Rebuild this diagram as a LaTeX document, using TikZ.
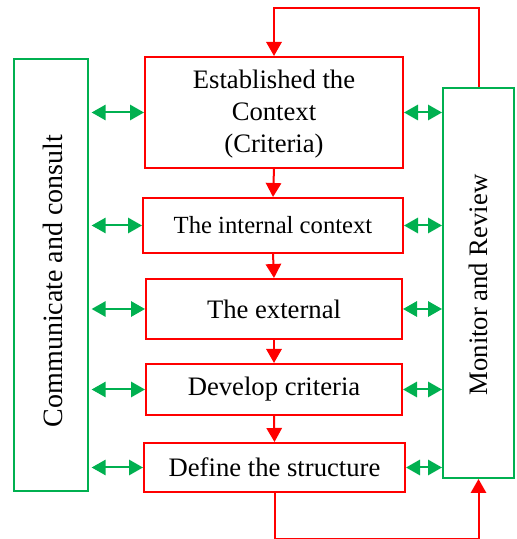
\documentclass[tikz,border=0pt]{standalone}
\usepackage{fontspec}
\setmainfont{Liberation Serif}
\usetikzlibrary{arrows.meta,calc}
\definecolor{redline}{RGB}{255,0,0}
\definecolor{greenline}{RGB}{0,176,80}

\begin{document}
\begin{tikzpicture}[x=.75pt,y=.75pt,>={Triangle[length=10.5pt,width=11.5pt]},
  stepbox/.style={draw=redline,line width=1.5pt,inner sep=0pt,font=\fontsize{20}{24}\selectfont,align=center},
  sidebox/.style={draw=greenline,line width=1.5pt,inner sep=0pt},
  sidetext/.style={rotate=90,font=\fontsize{20}{24}\selectfont},
  flow/.style={->,draw=redline,line width=1.5pt},
  talk/.style={<->,draw=greenline,line width=1.5pt}]
\path[use as bounding box] (0,0) rectangle (517,539);
% side boxes
\node[sidebox,minimum width=55.5pt,minimum height=324pt] (cc) at (51,264) {};
\node[sidetext,font=\fontsize{21}{24}\selectfont] at (53,258) {Communicate and consult};
\node[sidebox,minimum width=53.25pt,minimum height=292.5pt] (mr) at (478.5,256) {};
\node[sidetext] at (478,254) {Monitor and Review};
% process steps
\node[stepbox,minimum width=193.5pt,minimum height=83.25pt] (ctx) at (274,426.5) {\strut Established the\\Context\\(Criteria)};
\node[stepbox,minimum width=195pt,minimum height=41.25pt,font=\fontsize{18.5}{22}\selectfont] (int) at (273,313.5) {The internal context};
\node[stepbox,minimum width=192pt,minimum height=45pt] (ext) at (274,230) {The external};
\node[stepbox,minimum width=192pt,minimum height=38.25pt] (crit) at (274,149.5) {Develop criteria};
\node[stepbox,minimum width=195.75pt,minimum height=36.75pt] (struct) at (274.5,71.5) {Define the structure};
% flow between steps
\draw[flow] (ctx.south) -- (int.north);
\draw[flow] (int.south) -- (ext.north);
\draw[flow] (ext.south) -- (crit.north);
\draw[flow] (crit.south) -- (struct.north);
% feedback loops
\draw[flow] (mr.north) -- ++(0,79) -| (ctx.north);
\draw[flow] (struct.south) -- ++(0,-46) -| (mr.south);
% communication arrows
\foreach \s in {ctx,int,ext,crit,struct}{
  \draw[talk,shorten <=2pt] (cc.east |- \s.west) -- (\s.west);
  \draw[talk] (\s.east) -- (mr.west |- \s.east);
}
\end{tikzpicture}
\end{document}
